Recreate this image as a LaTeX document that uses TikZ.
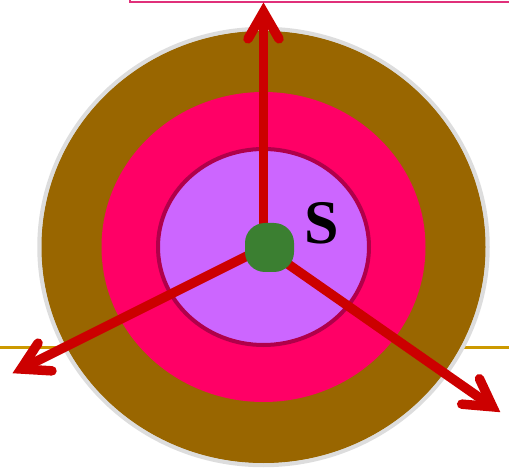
\documentclass[tikz,border=0pt]{standalone}
\usepackage{fontspec}
\setmainfont{Liberation Serif}
\usetikzlibrary{calc}
\definecolor{brownring}{HTML}{996600}
\definecolor{pinkring}{HTML}{FF0066}
\definecolor{violetcore}{HTML}{CC66FF}
\definecolor{violetedge}{HTML}{B0004A}
\definecolor{greycircle}{HTML}{DDDDDD}
\definecolor{arrowred}{HTML}{CC0000}
\definecolor{blobgreen}{HTML}{3B7F31}
\definecolor{axisyellow}{HTML}{CC9900}
\definecolor{topedge}{HTML}{E0307A}
\tikzset{
  shaftline/.style={draw=arrowred, line width=9.5pt, line cap=butt},
  barbline/.style={draw=arrowred, line width=9.5pt, line cap=round, line join=miter, miter limit=10},
}
\newcommand\redarrow[2]{%
  \draw[shaftline] (#1) -- ($(#2)!6pt!(#1)$);
  \draw[barbline] ($(#2)!31pt!30:(#1)$) -- (#2) -- ($(#2)!31pt!-30:(#1)$);
}
\begin{document}
\begin{tikzpicture}[x=1pt,y=-1pt]
\useasboundingbox (0,0) rectangle (509,473);
% top frame edge
\draw[topedge, line width=1.5pt] (130,-10) rectangle (520,2.2);
% yellow horizontal line
\draw[axisyellow, line width=3pt] (0,347) -- (509,347);
% rings
\coordinate (c) at (263.5,247);
\fill[brownring, draw=greycircle, line width=4.5pt] (c) ellipse [x radius=224, y radius=218];
\fill[brownring] (c) ellipse [x radius=222, y radius=216];
\fill[pinkring] (c) ellipse [x radius=162, y radius=155];
\filldraw[fill=violetcore, draw=violetedge, line width=4pt] (c) ellipse [x radius=105.5, y radius=98];
% arrow ends
\coordinate (s1) at (263.5,236);
\coordinate (t1) at (263.5,12);
\coordinate (s2) at (262,248.5);
\coordinate (t2) at (21,369);
\coordinate (s3) at (275,255);
\coordinate (t3) at (492.6,406.8);
\redarrow{s1}{t1}
\redarrow{s2}{t2}
\redarrow{s3}{t3}
% green blob
\node[fill=blobgreen, minimum width=49pt, minimum height=49pt, inner sep=0pt, rounded corners=20pt] (blob) at (269.5,247.5) {};
% label
\node[font=\fontsize{62}{62}\selectfont\bfseries, inner sep=0pt] (S) at (322,223) {S};
\end{tikzpicture}
\end{document}
